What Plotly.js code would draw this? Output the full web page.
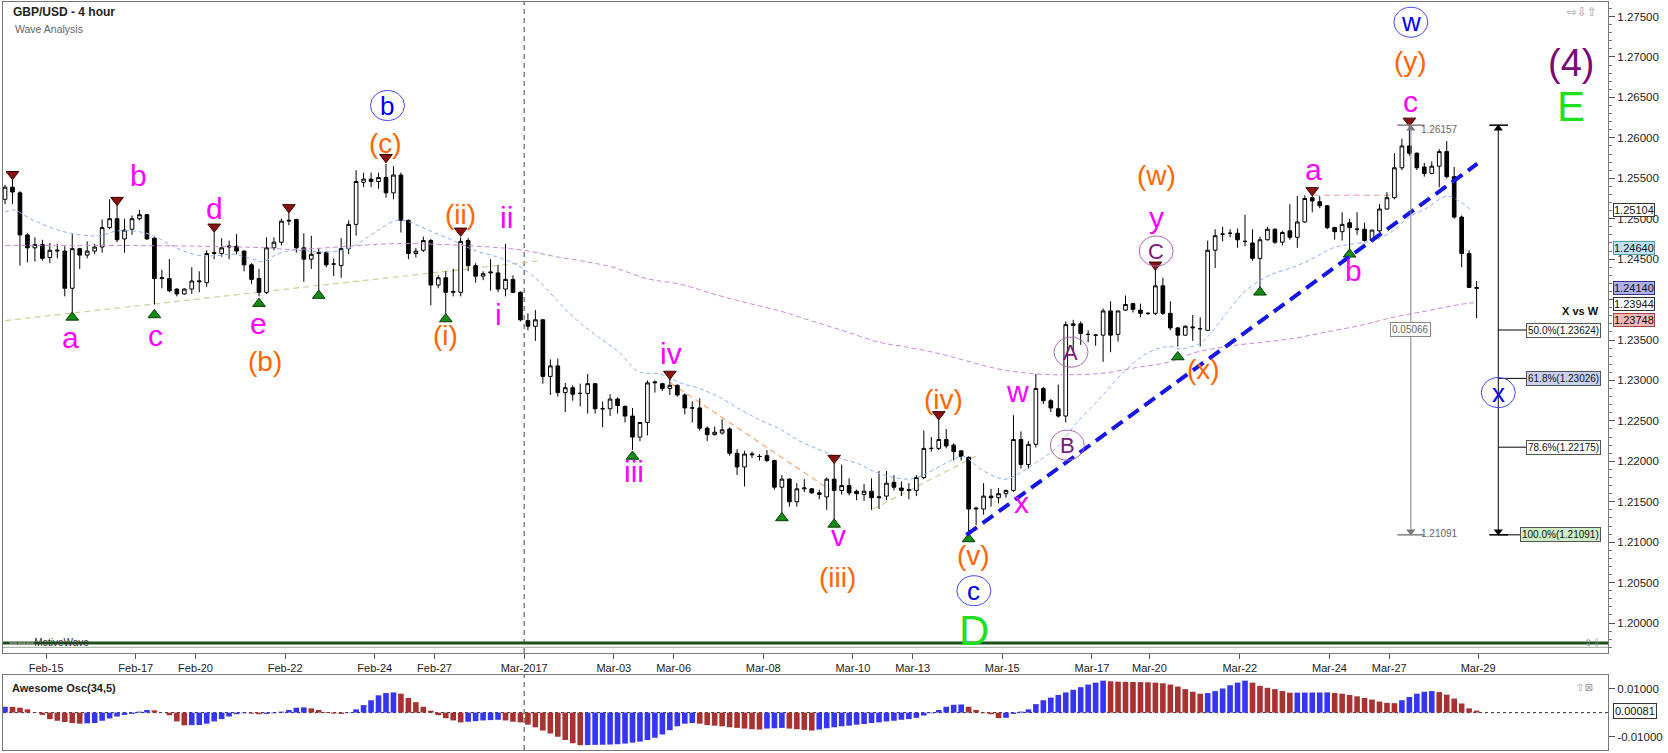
<!DOCTYPE html>
<html><head><meta charset="utf-8">
<script src="https://cdn.plot.ly/plotly-3.0.1.min.js"></script>
<style>html,body{margin:0;padding:0;background:#fff;}#chart{width:1668px;height:753px;}</style>
</head><body><div id="chart"></div>
<script>
// ---------- DATA ----------
const openP = [1.2524,1.2539,1.2532,1.2480,1.2464,1.2468,1.2452,1.2460,1.2460,1.2414,
1.2463,1.2455,1.2460,1.2465,1.2489,1.2500,1.2475,1.2487,1.2500,1.2505,
1.2476,1.2426,1.2426,1.2413,1.2407,1.2413,1.2422,1.2421,1.2457,1.2457,
1.2465,1.2466,1.2460,1.2443,1.2426,1.2409,1.2464,1.2471,1.2497,1.2499,
1.2464,1.2450,1.2457,1.2458,1.2444,1.2442,1.2463,1.2493,1.2545,1.2549,
1.2546,1.2551,1.2532,1.2554,1.2498,1.2457,1.2461,1.2473,1.2418,1.2427,
1.2409,1.2409,1.2473,1.2442,1.2429,1.2433,1.2433,1.2413,1.2425,1.2409,
1.2374,1.2367,1.2375,1.2305,1.2318,1.2285,1.2291,1.2284,1.2284,1.2296,
1.2265,1.2265,1.2277,1.2268,1.2256,1.2230,1.2248,1.2297,1.2296,1.2290,
1.2294,1.2282,1.2266,1.2266,1.2241,1.2233,1.2235,1.2240,1.2210,1.2193,
1.2208,1.2206,1.2207,1.2201,1.2168,1.2178,1.2150,1.2166,1.2166,1.2161,
1.2156,1.2178,1.2164,1.2170,1.2163,1.2159,1.2163,1.2155,1.2157,1.2174,
1.2167,1.2164,1.2164,1.2180,1.2216,1.2216,1.2227,1.2220,1.2213,1.2205,
1.2141,1.2141,1.2157,1.2155,1.2160,1.2164,1.2227,1.2196,1.2221,1.2290,
1.2275,1.2265,1.2256,1.2368,1.2370,1.2357,1.2356,1.2356,1.2386,1.2357,
1.2387,1.2395,1.2387,1.2383,1.2383,1.2417,1.2383,1.2365,1.2356,1.2365,
1.2364,1.2362,1.2461,1.2481,1.2482,1.2482,1.2472,1.2470,1.2451,1.2474,
1.2487,1.2471,1.2485,1.2477,1.2496,1.2526,1.2521,1.2516,1.2489,1.2484,
1.2495,1.2487,1.2487,1.2473,1.2485,1.2512,1.2526,1.2563,1.2590,1.2581,
1.2564,1.2556,1.2565,1.2583,1.2552,1.2502,1.2457,1.2415];
const highP = [1.2542,1.2549,1.2534,1.2482,1.2477,1.2474,1.2470,1.2469,1.2466,1.2481,
1.2464,1.2472,1.2469,1.2499,1.2524,1.2517,1.2500,1.2504,1.2511,1.2506,
1.2477,1.2437,1.2450,1.2414,1.2414,1.2440,1.2435,1.2461,1.2483,1.2476,
1.2473,1.2481,1.2461,1.2445,1.2438,1.2477,1.2477,1.2500,1.2508,1.2500,
1.2482,1.2479,1.2464,1.2460,1.2451,1.2476,1.2498,1.2560,1.2557,1.2557,
1.2557,1.2568,1.2565,1.2557,1.2499,1.2464,1.2478,1.2475,1.2430,1.2435,
1.2438,1.2477,1.2476,1.2445,1.2435,1.2450,1.2443,1.2469,1.2430,1.2410,
1.2383,1.2387,1.2376,1.2326,1.2327,1.2297,1.2294,1.2296,1.2308,1.2297,
1.2274,1.2283,1.2279,1.2269,1.2266,1.2248,1.2300,1.2300,1.2297,1.2303,
1.2295,1.2284,1.2274,1.2278,1.2243,1.2243,1.2252,1.2242,1.2215,1.2213,
1.2212,1.2209,1.2214,1.2202,1.2183,1.2179,1.2173,1.2178,1.2167,1.2165,
1.2180,1.2199,1.2196,1.2179,1.2165,1.2172,1.2179,1.2188,1.2188,1.2183,
1.2175,1.2173,1.2183,1.2238,1.2230,1.2253,1.2240,1.2222,1.2213,1.2206,
1.2144,1.2173,1.2166,1.2167,1.2165,1.2257,1.2237,1.2225,1.2308,1.2292,
1.2277,1.2295,1.2373,1.2375,1.2373,1.2362,1.2357,1.2389,1.2398,1.2386,
1.2405,1.2396,1.2395,1.2384,1.2437,1.2427,1.2398,1.2366,1.2368,1.2381,
1.2378,1.2473,1.2487,1.2490,1.2487,1.2488,1.2505,1.2487,1.2478,1.2490,
1.2488,1.2485,1.2518,1.2528,1.2529,1.2529,1.2528,1.2517,1.2490,1.2508,
1.2500,1.2508,1.2495,1.2486,1.2518,1.2533,1.2581,1.2599,1.2616,1.2582,
1.2569,1.2571,1.2586,1.2596,1.2564,1.2504,1.2461,1.2423];
const lowP = [1.2518,1.2518,1.2442,1.2446,1.2447,1.2448,1.2445,1.2451,1.2404,1.2383,
1.2438,1.2451,1.2456,1.2458,1.2487,1.2471,1.2458,1.2480,1.2498,1.2474,
1.2394,1.2414,1.2409,1.2404,1.2406,1.2407,1.2409,1.2416,1.2450,1.2453,
1.2450,1.2456,1.2435,1.2419,1.2404,1.2407,1.2461,1.2467,1.2492,1.2458,
1.2422,1.2438,1.2409,1.2440,1.2429,1.2427,1.2456,1.2479,1.2539,1.2539,
1.2537,1.2526,1.2524,1.2483,1.2450,1.2452,1.2459,1.2393,1.2414,1.2382,
1.2404,1.2404,1.2435,1.2421,1.2424,1.2411,1.2409,1.2404,1.2408,1.2373,
1.2362,1.2349,1.2296,1.2282,1.2280,1.2261,1.2275,1.2268,1.2259,1.2259,
1.2242,1.2256,1.2259,1.2248,1.2214,1.2225,1.2232,1.2285,1.2287,1.2282,
1.2280,1.2258,1.2248,1.2238,1.2225,1.2232,1.2233,1.2207,1.2183,1.2169,
1.2204,1.2201,1.2199,1.2165,1.2135,1.2144,1.2144,1.2162,1.2160,1.2153,
1.2140,1.2127,1.2159,1.2158,1.2152,1.2151,1.2140,1.2141,1.2152,1.2164,
1.2157,1.2153,1.2157,1.2178,1.2212,1.2214,1.2216,1.2201,1.2201,1.2109,
1.2121,1.2134,1.2144,1.2148,1.2155,1.2162,1.2191,1.2191,1.2217,1.2271,
1.2261,1.2254,1.2248,1.2336,1.2344,1.2347,1.2343,1.2323,1.2335,1.2348,
1.2386,1.2384,1.2378,1.2381,1.2381,1.2381,1.2362,1.2342,1.2355,1.2349,
1.2342,1.2361,1.2439,1.2472,1.2477,1.2464,1.2466,1.2448,1.2414,1.2473,
1.2469,1.2467,1.2474,1.2464,1.2495,1.2508,1.2513,1.2487,1.2474,1.2473,
1.2461,1.2480,1.2472,1.2472,1.2483,1.2511,1.2524,1.2560,1.2578,1.2560,
1.2552,1.2555,1.2539,1.2550,1.2500,1.2440,1.2415,1.2377];
const closeP = [1.2539,1.2533,1.2480,1.2464,1.2468,1.2451,1.2461,1.2461,1.2414,1.2463,
1.2455,1.2460,1.2465,1.2489,1.2500,1.2474,1.2486,1.2500,1.2505,1.2475,
1.2426,1.2427,1.2411,1.2407,1.2413,1.2423,1.2423,1.2457,1.2458,1.2464,
1.2466,1.2460,1.2443,1.2425,1.2409,1.2464,1.2471,1.2497,1.2498,1.2464,
1.2450,1.2456,1.2458,1.2443,1.2444,1.2463,1.2493,1.2546,1.2549,1.2546,
1.2551,1.2532,1.2554,1.2498,1.2457,1.2460,1.2473,1.2418,1.2427,1.2409,
1.2410,1.2472,1.2442,1.2429,1.2432,1.2434,1.2413,1.2425,1.2409,1.2375,
1.2367,1.2375,1.2305,1.2318,1.2285,1.2291,1.2283,1.2284,1.2296,1.2265,
1.2265,1.2277,1.2269,1.2256,1.2230,1.2248,1.2297,1.2298,1.2290,1.2294,
1.2282,1.2266,1.2266,1.2241,1.2233,1.2236,1.2239,1.2210,1.2193,1.2209,
1.2209,1.2206,1.2201,1.2168,1.2178,1.2150,1.2166,1.2167,1.2161,1.2159,
1.2178,1.2164,1.2170,1.2161,1.2160,1.2163,1.2155,1.2156,1.2173,1.2168,
1.2164,1.2165,1.2180,1.2216,1.2216,1.2227,1.2219,1.2212,1.2206,1.2141,
1.2142,1.2157,1.2155,1.2160,1.2164,1.2227,1.2196,1.2221,1.2290,1.2275,
1.2266,1.2256,1.2369,1.2370,1.2358,1.2357,1.2356,1.2386,1.2356,1.2386,
1.2394,1.2388,1.2383,1.2383,1.2417,1.2383,1.2365,1.2356,1.2367,1.2366,
1.2364,1.2461,1.2479,1.2481,1.2482,1.2474,1.2472,1.2451,1.2474,1.2487,
1.2471,1.2483,1.2477,1.2496,1.2525,1.2522,1.2516,1.2489,1.2484,1.2493,
1.2489,1.2487,1.2473,1.2486,1.2512,1.2526,1.2563,1.2590,1.2581,1.2563,
1.2556,1.2565,1.2583,1.2552,1.2502,1.2457,1.2415,1.2414];

const aoValues = [0.00245,0.00240,0.00204,0.00136,0.00014,-0.00095,-0.00272,-0.00340,-0.00394,-0.00435,
-0.00462,-0.00449,-0.00435,-0.00340,-0.00245,-0.00163,-0.00095,-0.00054,0.00041,0.00109,
0.00095,0.00000,-0.00109,-0.00367,-0.00530,-0.00524,-0.00517,-0.00462,-0.00367,-0.00272,
-0.00163,-0.00068,-0.00027,-0.00041,-0.00068,-0.00054,-0.00027,0.00041,0.00109,0.00204,
0.00218,0.00177,0.00109,0.00027,-0.00041,-0.00054,0.00014,0.00136,0.00313,0.00517,
0.00721,0.00816,0.00843,0.00789,0.00612,0.00435,0.00245,0.00082,-0.00109,-0.00231,
-0.00326,-0.00408,-0.00381,-0.00354,-0.00326,-0.00313,-0.00299,-0.00326,-0.00381,-0.00408,
-0.00503,-0.00612,-0.00748,-0.00870,-0.01006,-0.01142,-0.01278,-0.01360,-0.01353,-0.01346,
-0.01340,-0.01333,-0.01319,-0.01292,-0.01251,-0.01210,-0.01142,-0.01047,-0.00911,-0.00734,
-0.00571,-0.00462,-0.00435,-0.00462,-0.00517,-0.00544,-0.00571,-0.00612,-0.00639,-0.00666,
-0.00694,-0.00707,-0.00666,-0.00653,-0.00639,-0.00666,-0.00694,-0.00721,-0.00748,-0.00707,
-0.00653,-0.00612,-0.00571,-0.00544,-0.00503,-0.00476,-0.00435,-0.00408,-0.00367,-0.00340,
-0.00299,-0.00272,-0.00218,-0.00122,-0.00027,0.00109,0.00245,0.00326,0.00340,0.00245,
0.00109,-0.00027,-0.00068,-0.00231,-0.00218,-0.00054,0.00041,0.00136,0.00354,0.00517,
0.00626,0.00734,0.00843,0.00952,0.01061,0.01170,0.01251,0.01333,0.01306,0.01292,
0.01285,0.01278,0.01272,0.01265,0.01251,0.01224,0.01170,0.01088,0.00979,0.00870,
0.00789,0.00816,0.00898,0.01006,0.01142,0.01251,0.01333,0.01251,0.01115,0.01034,
0.00979,0.00898,0.00830,0.00832,0.00835,0.00838,0.00840,0.00843,0.00816,0.00789,
0.00734,0.00680,0.00612,0.00544,0.00462,0.00408,0.00394,0.00517,0.00653,0.00789,
0.00870,0.00898,0.00857,0.00748,0.00585,0.00381,0.00177,0.00081];

const blueMaIdx = [0,1.1,3.8,8.3,12.7,15,18.5,20.3,22.5,25.2,27.9,30.6,33.2,34.6,36.4,38.6,40.8,43.5,46.2,49.3,52.4,53.8,56.9,60.5,63.1,65.8,68.5,71.2,73.9,76.5,79.7,82.3,84.8,87.7,90.4,93,95.7,98.4,101.1,103.7,106.4,109.1,111.8,114.5,116.2,118.5,121.1,122.9,125.6,128.3,130.5,132.8,134.1,135.9,138.1,140.8,143.5,147,149.7,152.4,154.2,156,157.3,160,161.3,163.5,166.2,169.3,172.4,175.1,177.8,180.5,183.2,185.8,188.1,190.3,193,194.8,196.2];
const blueMaVal = [1.2508,1.2511,1.2498,1.2483,1.2479,1.2485,1.2483,1.2477,1.2466,1.2456,1.2454,1.2456,1.2450,1.2447,1.2456,1.2461,1.2460,1.2459,1.2464,1.2482,1.2498,1.2497,1.2485,1.2471,1.2460,1.2453,1.2443,1.2425,1.2399,1.2375,1.2352,1.2334,1.2311,1.2308,1.2297,1.2290,1.2279,1.2264,1.2251,1.2240,1.2225,1.2214,1.2204,1.2196,1.2188,1.2181,1.2178,1.2183,1.2196,1.2206,1.2191,1.2180,1.2178,1.2186,1.2199,1.2217,1.2248,1.2282,1.2310,1.2331,1.2339,1.2342,1.2339,1.2346,1.2357,1.2383,1.2412,1.2430,1.2440,1.2451,1.2464,1.2469,1.2473,1.2485,1.2503,1.2513,1.2528,1.2521,1.2511];
const purpleMaIdx = [0,12.7,26.1,35,38.2,51.5,56,64.9,69.4,73.8,78.3,81.4,85.9,90.4,94.8,99.3,103.7,108.2,112.7,117.1,120.3,124.7,129.2,133.6,138.1,142.5,147,151.5,155.9,159.1,163.5,168,172.5,176.9,181.4,185.8,190.3,194.8,196.6];
const purpleMaVal = [1.2467,1.2467,1.2466,1.2464,1.2462,1.2469,1.2469,1.2465,1.2461,1.2453,1.2446,1.2440,1.2426,1.2419,1.2407,1.2396,1.2386,1.2373,1.2360,1.2347,1.2342,1.2334,1.2323,1.2313,1.2308,1.2307,1.2309,1.2316,1.2323,1.2334,1.2342,1.2347,1.2352,1.2360,1.2368,1.2378,1.2386,1.2394,1.2396];

const swingHighIdx = [1,15,28,38,51,61,89,111,125,154,175,188];
const swingHighVal = [1.2555,1.2523,1.2490,1.2514,1.2576,1.2485,1.2308,1.2204,1.2258,1.2443,1.2535,1.2621];
const swingLowIdx = [9,20,34,42,59,84,104,111,129,157,168,180];
const swingLowVal = [1.2378,1.2381,1.2395,1.2405,1.2376,1.2206,1.2130,1.2122,1.2104,1.2329,1.2409,1.2456];

const tickIdx = [5.5,17.5,25.5,37.5,49.5,57.5,69.5,81.5,89.5,101.5,113.5,121.5,133.5,145.5,153.2,165.3,177.3,185.3,197.2];
const tickLabels = ['Feb-15','Feb-17','Feb-20','Feb-22','Feb-24','Feb-27','Mar-2017','Mar-03','Mar-06','Mar-08','Mar-10','Mar-13','Mar-15','Mar-17','Mar-20','Mar-22','Mar-24','Mar-27','Mar-29'];
const priceTickVals = [1.200,1.205,1.210,1.215,1.220,1.225,1.230,1.235,1.240,1.245,1.250,1.255,1.260,1.265,1.270,1.275];
const priceTickText = ['1.20000','1.20500','1.21000','1.21500','1.22000','1.22500','1.23000','1.23500','','1.24500','1.25000','1.25500','1.26000','1.26500','1.27000','1.27500'];

const fibHigh = 1.26157, fibLow = 1.21091;
const fibLevelText = ['50.0%(1.23624)','61.8%(1.23026)','78.6%(1.22175)','100.0%(1.21091)'];
const fibLevelPrice = [1.23624, 1.23026, 1.22175, 1.21091];
const priceTags = [1.25104, 1.24640, 1.24140, 1.23944, 1.23748];
const aoLast = 0.00081;

// ---------- LABEL CONFIG (positions / styles) ----------
const C = {mag:'#ff00ff', ora:'#ff6600', grn:'#1fe01f', pur:'#7a0a7a', blue:'#0000f0'};
const SZ = {mag:30, ora:28, grn:42, pur:38};
const waveLabels = [
 ['a',8.8,1.2353,'mag'],['b',17.9,1.2554,'mag'],['c',20.2,1.2356,'mag'],['d',28,1.2513,'mag'],['e',33.9,1.2371,'mag'],
 ['(b)',34.8,1.2323,'ora'],['(c)',51,1.2593,'ora'],['(ii)',61,1.2505,'ora'],['ii',67.1,1.2502,'mag'],['i',66.1,1.2381,'mag'],
 ['(i)',59,1.2355,'ora'],['iii',84.2,1.2187,'mag'],['iv',89.1,1.2333,'mag'],['v',111.6,1.2108,'mag'],['(iii)',111.5,1.2056,'ora'],
 ['(iv)',125.6,1.2277,'ora'],['(v)',129.7,1.2083,'ora'],['D',129.7,1.1991,'grn'],['w',135.5,1.2286,'mag'],['x',136.1,1.2149,'mag'],
 ['(w)',154.1,1.2553,'ora'],['y',154.1,1.2502,'mag'],['(x)',160.4,1.2313,'ora'],['a',175.2,1.2561,'mag'],['b',180.5,1.2436,'mag'],
 ['(y)',188.2,1.2695,'ora'],['c',188.2,1.2645,'mag'],['(4)',209.6,1.2692,'pur'],['E',209.6,1.2639,'grn']
];
const circleLabels = [
 ['b',51.2,1.2640,'blue'],['c',129.7,1.2040,'blue'],['w',188.2,1.2743,'blue'],['x',199.9,1.2285,'blue'],
 ['A',142.7,1.2335,'pur'],['B',142.2,1.2220,'pur'],['C',154.1,1.2460,'pur']
];

const N = closeP.length;
const candleIdx = Array.from({length:N},(_,i)=>i);
const aoColors = aoValues.map((v,i)=> (i===0 || v>aoValues[i-1]) ? '#3535f2' : '#a83232');

const FONT = 'Liberation Sans, Arial, sans-serif';
const SYM = 'DejaVu Sans, sans-serif';
const XR = [-0.27, 214.59];

const traces = [
 {type:'scatter',mode:'lines',x:blueMaIdx,y:blueMaVal,line:{color:'#8fb0f5',width:1,dash:'4px,3px',shape:'spline'},hoverinfo:'skip',xaxis:'x',yaxis:'y'},
 {type:'scatter',mode:'lines',x:purpleMaIdx,y:purpleMaVal,line:{color:'#c98bd9',width:1,dash:'5px,3px',shape:'spline'},hoverinfo:'skip',xaxis:'x',yaxis:'y'},
 {type:'candlestick',x:candleIdx,open:openP,high:highP,low:lowP,close:closeP,xaxis:'x',yaxis:'y',
  increasing:{line:{color:'#000',width:1},fillcolor:'#ffffff'},
  decreasing:{line:{color:'#000',width:1},fillcolor:'#000000'},whiskerwidth:0},
 {type:'scatter',mode:'markers',x:swingHighIdx,y:swingHighVal,marker:{symbol:'triangle-down',size:11,color:'#8b1010',line:{color:'#3a0000',width:1}},xaxis:'x',yaxis:'y'},
 {type:'scatter',mode:'markers',x:swingLowIdx,y:swingLowVal,marker:{symbol:'triangle-up',size:11,color:'#148c14',line:{color:'#053a05',width:1}},xaxis:'x',yaxis:'y'},
 {type:'scatter',mode:'markers',x:[188.2,188.2],y:[fibHigh-0.0004,fibLow+0.0004],marker:{symbol:['triangle-up','triangle-down'],size:8,color:'#777'},xaxis:'x',yaxis:'y'},
 {type:'scatter',mode:'markers',x:[199.9,199.9],y:[fibHigh-0.0004,fibLow+0.0004],marker:{symbol:['triangle-up','triangle-down'],size:8,color:'#000'},xaxis:'x',yaxis:'y'},
 {type:'bar',x:candleIdx,y:aoValues,marker:{color:aoColors,line:{width:0}},xaxis:'x2',yaxis:'y2'}
];

const shapes = [];
const line = (x0,y0,x1,y1,color,width,dash,layer,yref)=>shapes.push({type:'line',xref:'x',yref:yref||'y',x0,y0,x1,y1,line:{color,width,dash:dash||'solid'},layer:layer||'above'});
line(0,1.2374,71.6,1.2448,'#cfcf98',1.2,'6px,4px','below');
line(116.2,1.2141,130.5,1.2209,'#cfcf98',1.2,'6px,4px','below');
line(89.1,1.2297,110.4,1.2165,'#f5a878',1.2,'6px,4px','below');
line(175.2,1.2529,186.5,1.2529,'#f29a9a',1.2,'6px,4px','below');
line(128.7,1.2109,197.1,1.2568,'#1515e8',4,'13px,7px','above');
shapes.push({type:'line',xref:'x',yref:'y domain',x0:69.5,x1:69.5,y0:0,y1:1,line:{color:'#808080',width:1.5,dash:'5px,4px'},layer:'below'});
shapes.push({type:'line',xref:'x2',yref:'y2 domain',x0:69.5,x1:69.5,y0:0,y1:1,line:{color:'#808080',width:1.5,dash:'5px,4px'},layer:'below'});
shapes.push({type:'line',xref:'paper',yref:'y',x0:0,x1:1,y0:1.19755,y1:1.19755,line:{color:'#1d4f1d',width:3}});
shapes.push({type:'line',xref:'paper',yref:'y',x0:0,x1:1,y0:1.19700,y1:1.19700,line:{color:'#9aa69a',width:1}});
line(188.2,fibHigh,188.2,fibLow,'#808080',1);
line(186.4,fibHigh,190.0,fibHigh,'#808080',1.5);
line(186.4,fibLow,190.0,fibLow,'#808080',1.5);
line(199.9,fibHigh,199.9,fibLow,'#000',1);
line(198.7,fibHigh,201.2,fibHigh,'#000',1.5);
line(198.7,fibLow,201.2,fibLow,'#000',1.5);
fibLevelPrice.forEach((p,i)=>{ line(199.9,p,i===3?203.3:204.0,p,'#000',1); });
shapes.push({type:'line',xref:'paper',yref:'y2',x0:0,x1:1,y0:0,y1:0,line:{color:'#333',width:1,dash:'3px,3px'},layer:'below'});
circleLabels.forEach(c=>{
  const col = c[3]==='blue' ? '#4646ff' : '#a868b0';
  shapes.push({type:'circle',xref:'x',yref:'y',xsizemode:'pixel',ysizemode:'pixel',xanchor:c[1],yanchor:c[2],x0:-17,x1:17,y0:-15,y1:15,line:{color:col,width:1},fillcolor:'rgba(255,255,255,0)'});
});

const ann = [];
waveLabels.forEach(l=>ann.push({xref:'x',yref:'y',x:l[1],y:l[2],text:l[0],showarrow:false,font:{family:FONT,size:SZ[l[3]],color:C[l[3]]},xanchor:'center',yanchor:'middle'}));
circleLabels.forEach(c=>ann.push({xref:'x',yref:'y',x:c[1],y:c[2],text:c[0],showarrow:false,font:{family:FONT,size:c[3]==='blue'?26:22,color:c[3]==='blue'?'#0000f0':'#7a1a7a'},xanchor:'center',yanchor:'middle'}));
ann.push({xref:'paper',yref:'paper',x:0.005,y:0.986,text:'<b>GBP/USD - 4 hour</b>',showarrow:false,xanchor:'left',yanchor:'middle',font:{family:FONT,size:12,color:'#222'}});
ann.push({xref:'paper',yref:'paper',x:0.006,y:0.964,text:'Wave Analysis',showarrow:false,xanchor:'left',yanchor:'middle',font:{family:FONT,size:10.5,color:'#666'}});
ann.push({xref:'paper',yref:'y',x:0,y:1.19755,text:'<span style="font-family:DejaVu Sans;color:#9a9a9a">⇔⇔⇔</span>MotiveWave',showarrow:false,xanchor:'left',yanchor:'middle',xshift:4,font:{family:FONT,size:10,color:'#333'}});
ann.push({xref:'paper',yref:'paper',x:0.9836,y:0.9865,text:'⇨⇩⇧',showarrow:false,xanchor:'center',yanchor:'middle',font:{family:SYM,size:12,color:'#9a9a9a'}});
ann.push({xref:'paper',yref:'y',x:0.997,y:1.19755,text:'⇧⇩',showarrow:false,xanchor:'right',yanchor:'middle',font:{family:SYM,size:10,color:'#9a9a9a'}});
ann.push({xref:'paper',yref:'paper',x:0.0045,y:0.083,text:'<b>Awesome Osc(34,5)</b>',showarrow:false,xanchor:'left',yanchor:'middle',font:{family:FONT,size:11,color:'#222'}});
ann.push({xref:'paper',yref:'paper',x:0.992,y:0.083,text:'⇧⊠',showarrow:false,xanchor:'right',yanchor:'middle',font:{family:SYM,size:10,color:'#9a9a9a'}});
ann.push({xref:'x',yref:'y',x:189.3,y:fibHigh-0.0005,text:fibHigh.toFixed(5),showarrow:false,xanchor:'left',yanchor:'middle',font:{family:FONT,size:10,color:'#666'}});
ann.push({xref:'x',yref:'y',x:189.3,y:fibLow+0.0002,text:fibLow.toFixed(5),showarrow:false,xanchor:'left',yanchor:'middle',font:{family:FONT,size:10,color:'#666'}});
ann.push({xref:'x',yref:'y',x:188.2,y:1.2363,text:(fibHigh-fibLow).toFixed(5),showarrow:false,xanchor:'center',yanchor:'middle',bgcolor:'#fff',bordercolor:'#888',borderwidth:1,borderpad:1,font:{family:FONT,size:10,color:'#666'}});
const fibBg = ['#ffffff','#c9d0f4','#ffffff','#cdeec4'];
fibLevelPrice.forEach((p,i)=>ann.push({xref:'x',yref:'y',x:213.7,y:p,text:fibLevelText[i],showarrow:false,xanchor:'right',yanchor:'middle',bgcolor:fibBg[i],bordercolor:'#555',borderwidth:1,borderpad:1,font:{family:FONT,size:10,color:'#111'}}));
ann.push({xref:'x',yref:'y',x:213.7,y:1.2386,text:'<b>X vs W</b>',showarrow:false,xanchor:'right',yanchor:'middle',font:{family:FONT,size:11,color:'#111'}});
const tagBg = ['#ffffff','#bfe2f2','#aeb0f2','#ffffff','#f5b6b6'];
const tagBd = ['#333','#5b9bb5','#34348f','#333','#a04848'];
priceTags.forEach((p,i)=>ann.push({xref:'paper',yref:'y',x:1,xshift:5,y:p,text:p.toFixed(5),showarrow:false,xanchor:'left',yanchor:'middle',bgcolor:tagBg[i],bordercolor:tagBd[i],borderwidth:1,borderpad:0,font:{family:FONT,size:11,color:'#111'}}));
ann.push({xref:'paper',yref:'y2',x:1,xshift:5,y:aoLast,text:aoLast.toFixed(5),showarrow:false,xanchor:'left',yanchor:'middle',bgcolor:'#fff',bordercolor:'#333',borderwidth:1,borderpad:1,font:{family:FONT,size:11,color:'#111'}});

const layout = {
  width:1668,height:753,margin:{l:3,r:60,t:2,b:3},
  paper_bgcolor:'#fff',plot_bgcolor:'#fff',showlegend:false,bargap:0.25,hovermode:false,
  font:{family:FONT,color:'#222'},
  xaxis:{domain:[0,1],range:XR,anchor:'y',tickmode:'array',tickvals:tickIdx,ticktext:tickLabels,ticks:'outside',ticklen:5,tickcolor:'#555',
    tickfont:{family:FONT,size:11,color:'#222'},showgrid:false,zeroline:false,showline:true,linecolor:'#777',mirror:true,rangeslider:{visible:false}},
  xaxis2:{domain:[0,1],range:XR,anchor:'y2',showticklabels:false,ticks:'',showgrid:false,zeroline:false,showline:true,linecolor:'#777',mirror:true},
  yaxis:{domain:[0.1297,1],range:[1.1963,1.2768],side:'right',anchor:'x',tickmode:'array',tickvals:priceTickVals,ticktext:priceTickText,ticks:'outside',ticklen:6,tickcolor:'#555',
    minor:{ticks:'outside',ticklen:3,tick0:1.2,dtick:0.001,tickcolor:'#777'},tickfont:{family:FONT,size:11.5,color:'#222'},showgrid:false,zeroline:false,showline:true,linecolor:'#777',mirror:true},
  yaxis2:{domain:[0,0.1003],range:[-0.0156,0.0157],side:'right',anchor:'x2',tickmode:'array',tickvals:[-0.01,0.01],ticktext:['-0.01000','0.01000'],ticks:'outside',ticklen:6,tickcolor:'#555',
    tickfont:{family:FONT,size:11.5,color:'#222'},showgrid:false,zeroline:false,showline:true,linecolor:'#777',mirror:true},
  shapes, annotations:ann
};
Plotly.newPlot('chart',traces,layout,{staticPlot:true,displayModeBar:false});
</script></body></html>
